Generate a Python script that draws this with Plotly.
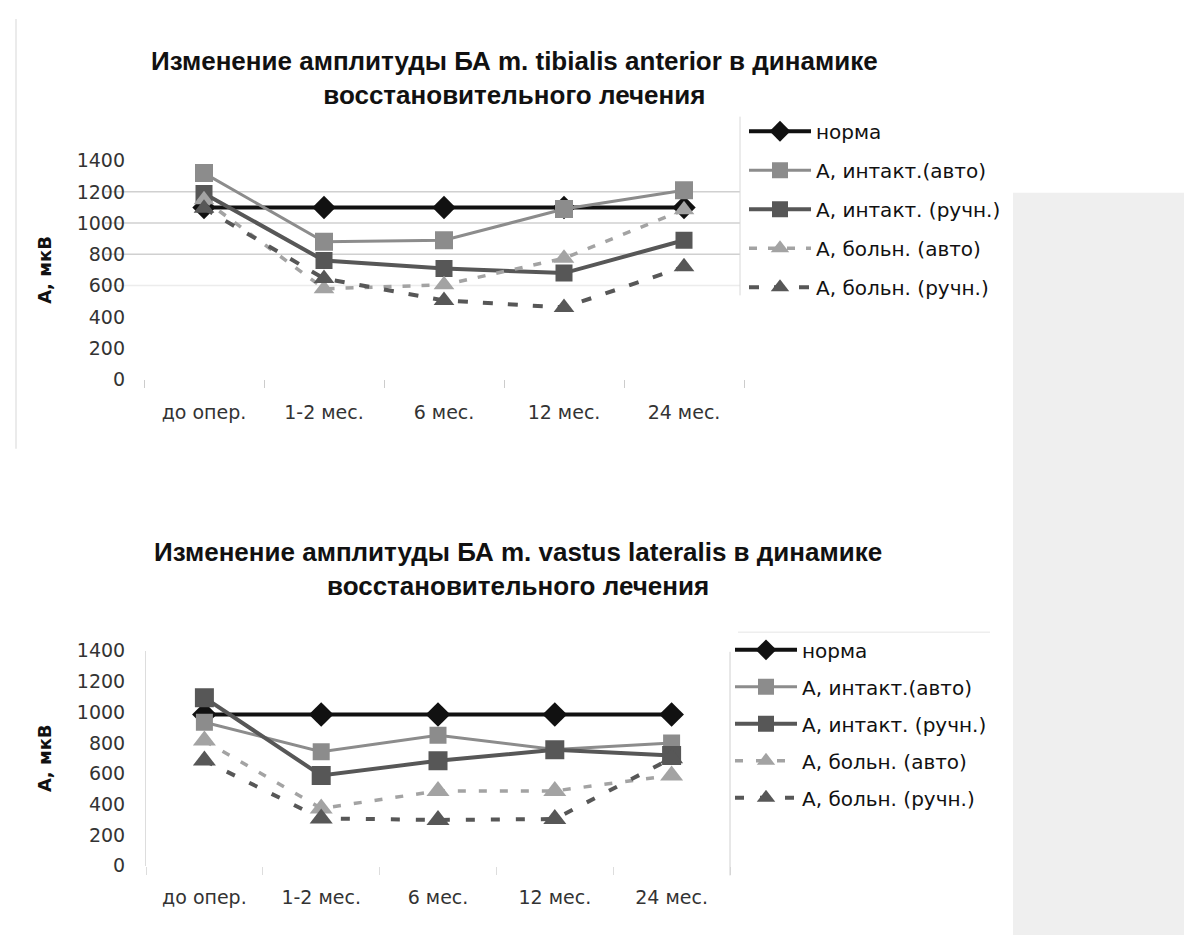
import plotly.graph_objects as go

categories = ["до опер.", "1-2 мес.", "6 мес.", "12 мес.", "24 мес."]
series_names = ["норма", "А, интакт.(авто)", "А, интакт. (ручн.)", "А, больн. (авто)", "А, больн. (ручн.)"]

# Chart 1: m. tibialis anterior
tib_norma = [1100, 1100, 1100, 1100, 1100]
tib_int_auto = [1320, 880, 890, 1090, 1210]
tib_int_man = [1190, 760, 710, 680, 890]
tib_bol_auto = [1150, 580, 605, 775, 1085]
tib_bol_man = [1095, 645, 505, 460, 720]

# Chart 2: m. vastus lateralis
vas_norma = [985, 985, 985, 985, 985]
vas_int_auto = [935, 742, 850, 757, 800]
vas_int_man = [1095, 588, 683, 755, 718]
vas_bol_auto = [815, 373, 487, 487, 588]
vas_bol_man = [685, 308, 298, 304, 700]

y_ticks = [0, 200, 400, 600, 800, 1000, 1200, 1400]
grid_top = [600, 800, 1000, 1200]

title_top = "Изменение амплитуды БА m. tibialis anterior в динамике<br>восстановительного лечения"
title_bot = "Изменение амплитуды БА m. vastus lateralis в динамике<br>восстановительного лечения"
y_title = "А, мкВ"

W, H = 1192, 938
FONT = "Liberation Sans, Arial, sans-serif"
WIDE = "DejaVu Sans, Verdana, sans-serif"

def make_styles(sizes, dashes):
    return [
        dict(line=dict(color="#111111", width=4), marker=dict(symbol="diamond", size=sizes[0], color="#111111")),
        dict(line=dict(color="#8c8c8c", width=3), marker=dict(symbol="square", size=sizes[1], color="#8c8c8c")),
        dict(line=dict(color="#575757", width=4), marker=dict(symbol="square", size=sizes[2], color="#575757")),
        dict(line=dict(color="#a3a3a3", width=3.5, dash=dashes[0]), marker=dict(symbol="triangle-up", size=sizes[3], color="#a3a3a3")),
        dict(line=dict(color="#575757", width=4, dash=dashes[1]), marker=dict(symbol="triangle-up", size=sizes[4], color="#575757")),
    ]

styles_top = make_styles([18, 18, 17, 18, 18], ["8px,11px", "10px,15px"])
styles_bot = make_styles([19, 17, 19, 20, 20], ["8px,13px", "9px,16px"])

fig = go.Figure()

top_data = [tib_norma, tib_int_auto, tib_int_man, tib_bol_auto, tib_bol_man]
bot_data = [vas_norma, vas_int_auto, vas_int_man, vas_bol_auto, vas_bol_man]

for i, (name, vals) in enumerate(zip(series_names, top_data)):
    fig.add_trace(go.Scatter(x=categories, y=vals, name=name, mode="lines+markers",
                             xaxis="x", yaxis="y", legend="legend", legendgroup=f"t{i}",
                             **styles_top[i]))
for i, (name, vals) in enumerate(zip(series_names, bot_data)):
    fig.add_trace(go.Scatter(x=categories, y=vals, name=name, mode="lines+markers",
                             xaxis="x2", yaxis="y2", legend="legend2", legendgroup=f"b{i}",
                             **styles_bot[i]))

def px(x):
    return x / W

def py(y):
    return 1 - y / H

axis_font = dict(family=WIDE, size=19, color="#333333")
legend_font = dict(family=WIDE, size=20, color="#111111")
ytitle_font = dict(family=WIDE, size=18, color="#111111", weight="bold")

fig.update_layout(
    width=W, height=H,
    margin=dict(l=0, r=0, t=0, b=0),
    paper_bgcolor="white", plot_bgcolor="rgba(0,0,0,0)",
    font=dict(family=FONT, color="#222222"),
    showlegend=True,
    xaxis=dict(domain=[px(136), px(736)], anchor="y", type="category", range=[-0.5, 4.5],
               tickson="boundaries", ticks="outside", ticklen=8, tickcolor="#cccccc",
               showline=False, showgrid=False, tickfont=axis_font, ticklabelstandoff=20),
    yaxis=dict(domain=[py(369), py(145)], anchor="x", range=[0, 1400], tickvals=y_ticks,
               showgrid=False, zeroline=False, showline=False, tickfont=axis_font,
               ticklabelstandoff=18,
               title=dict(text=y_title, font=ytitle_font, standoff=20)),
    xaxis2=dict(domain=[px(138), px(722)], anchor="y2", type="category", range=[-0.5, 4.5],
                tickson="boundaries", ticks="outside", ticklen=8, tickcolor="#dddddd",
                showline=False, showgrid=False, tickfont=axis_font, ticklabelstandoff=18),
    yaxis2=dict(domain=[py(867), py(647)], anchor="x2", range=[0, 1400], tickvals=y_ticks,
                showgrid=False, zeroline=False, showline=True, linecolor="#dddddd", linewidth=1,
                tickfont=axis_font, ticklabelstandoff=16,
                title=dict(text=y_title, font=ytitle_font, standoff=20)),
    legend=dict(x=px(736), y=py(95), xanchor="left", yanchor="top", bgcolor="rgba(0,0,0,0)",
                font=legend_font, tracegroupgap=10, itemwidth=62),
    legend2=dict(x=px(722), y=py(626), xanchor="left", yanchor="top", bgcolor="rgba(0,0,0,0)",
                 font=legend_font, tracegroupgap=8, itemwidth=62),
)

title_font = dict(family=FONT, size=26, color="#111111", weight="bold")
fig.add_annotation(text=title_top, x=px(506), y=py(60), xref="paper", yref="paper",
                   showarrow=False, font=title_font, align="center", xanchor="center", yanchor="middle")
fig.add_annotation(text=title_bot, x=px(510), y=py(563), xref="paper", yref="paper",
                   showarrow=False, font=title_font, align="center", xanchor="center", yanchor="middle")

shapes = []
# page background band (scan artefact)
shapes.append(dict(type="rect", xref="paper", yref="paper", x0=px(1005), x1=1, y0=0, y1=py(178),
                   fillcolor="#efefef", line=dict(width=0), layer="below"))
# gridlines of the upper chart
for g in grid_top:
    shapes.append(dict(type="line", xref="paper", yref="y", x0=px(97), x1=px(732), y0=g, y1=g,
                       line=dict(color="#d0d0d0" if g != 600 else "#ececec", width=1.5), layer="below"))
# chart frame borders
shapes.append(dict(type="line", xref="paper", yref="paper", x0=px(732), x1=px(732), y0=py(283), y1=py(100),
                   line=dict(color="#d8d8d8", width=1)))
shapes.append(dict(type="line", xref="paper", yref="paper", x0=px(722), x1=px(722), y0=py(877), y1=py(648),
                   line=dict(color="#d0d0d0", width=1)))
shapes.append(dict(type="line", xref="paper", yref="paper", x0=px(730), x1=px(982), y0=py(628), y1=py(628),
                   line=dict(color="#eeeeee", width=1.5)))
shapes.append(dict(type="line", xref="paper", yref="paper", x0=px(8), x1=px(8), y0=py(440), y1=1,
                   line=dict(color="#e4e4e4", width=1.5)))
fig.update_layout(shapes=shapes)

fig.write_html("out.html")
